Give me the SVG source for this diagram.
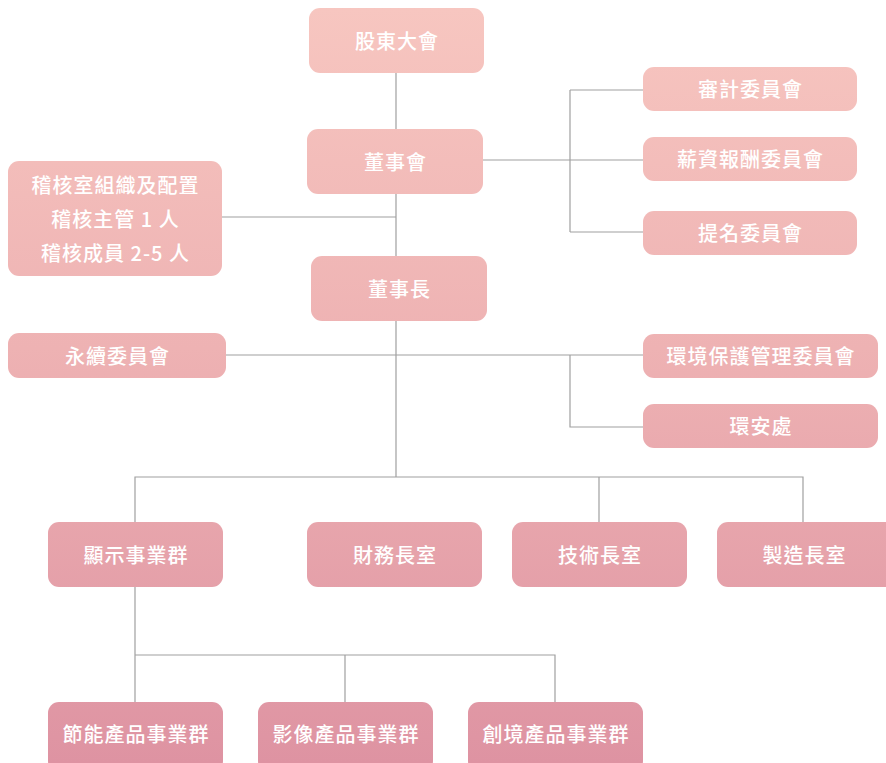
<svg xmlns="http://www.w3.org/2000/svg" width="886" height="763" viewBox="0 0 886 763">
<defs>
<linearGradient id="g" gradientUnits="userSpaceOnUse" x1="0" y1="8" x2="0" y2="763">
<stop offset="0" stop-color="#f7c6c0"/>
<stop offset="0.45" stop-color="#eeb2b3"/>
<stop offset="1" stop-color="#de93a2"/>
</linearGradient>
<style>
.n rect{fill:url(#g);}
.n text{fill:#ffffff;font-family:"Noto Sans CJK TC","Noto Sans CJK SC",sans-serif;font-size:20px;font-weight:500;text-anchor:middle;dominant-baseline:central;letter-spacing:1px;}
.c path{fill:none;stroke:#a0a0a0;stroke-width:1.2;}
</style>
</defs>
<rect width="886" height="763" fill="#ffffff"/>
<g class="c">
<path d="M396 73V129M396 194V256M396 321V477"/>
<path d="M483 160H643M570 90V232M570 90H643M570 232H643"/>
<path d="M222 217H396"/>
<path d="M226 355H643M570 355V427H643"/>
<path d="M135 522V477H803V522M599 477V522"/>
<path d="M135 587V702M135 655H555V702M345 655V702"/>
</g>
<g id="n1" class="n"><rect x="309" y="8" width="175" height="65" rx="11"/><text x="397" y="40.5">股東大會</text></g>
<g id="n2" class="n"><rect x="307" y="129" width="176" height="65" rx="11"/><text x="395.5" y="161.5">董事會</text></g>
<g id="n3" class="n"><rect x="311" y="256" width="176" height="65" rx="11"/><text x="399.5" y="288.5">董事長</text></g>
<g id="n4" class="n"><rect x="8" y="161" width="214" height="115" rx="11"/><text x="115.5" y="184">稽核室組織及配置</text><text x="115.5" y="218">稽核主管 1 人</text><text x="115.5" y="252">稽核成員 2-5 人</text></g>
<g id="n5" class="n"><rect x="643" y="67" width="214" height="44" rx="11"/><text x="750.5" y="88.5">審計委員會</text></g>
<g id="n6" class="n"><rect x="643" y="137" width="214" height="44" rx="11"/><text x="750.5" y="158.5">薪資報酬委員會</text></g>
<g id="n7" class="n"><rect x="643" y="211" width="214" height="44" rx="11"/><text x="750.5" y="232.5">提名委員會</text></g>
<g id="n8" class="n"><rect x="8" y="333" width="218" height="45" rx="11"/><text x="117.5" y="355">永續委員會</text></g>
<g id="n9" class="n"><rect x="643" y="334" width="235" height="44" rx="11"/><text x="761" y="355.5">環境保護管理委員會</text></g>
<g id="n10" class="n"><rect x="643" y="404" width="235" height="44" rx="11"/><text x="761" y="425.5">環安處</text></g>
<g id="n11" class="n"><rect x="48" y="522" width="175" height="65" rx="11"/><text x="136" y="554">顯示事業群</text></g>
<g id="n12" class="n"><rect x="307" y="522" width="175" height="65" rx="11"/><text x="395" y="554">財務長室</text></g>
<g id="n13" class="n"><rect x="512" y="522" width="175" height="65" rx="11"/><text x="600" y="554">技術長室</text></g>
<g id="n14" class="n"><rect x="717" y="522" width="180" height="65" rx="11"/><text x="804.5" y="554">製造長室</text></g>
<g id="n15" class="n"><rect x="48" y="702" width="175" height="70" rx="11"/><text x="136" y="733">節能產品事業群</text></g>
<g id="n16" class="n"><rect x="258" y="702" width="175" height="70" rx="11"/><text x="346" y="733">影像產品事業群</text></g>
<g id="n17" class="n"><rect x="468" y="702" width="175" height="70" rx="11"/><text x="556" y="733">創境產品事業群</text></g>
</svg>
